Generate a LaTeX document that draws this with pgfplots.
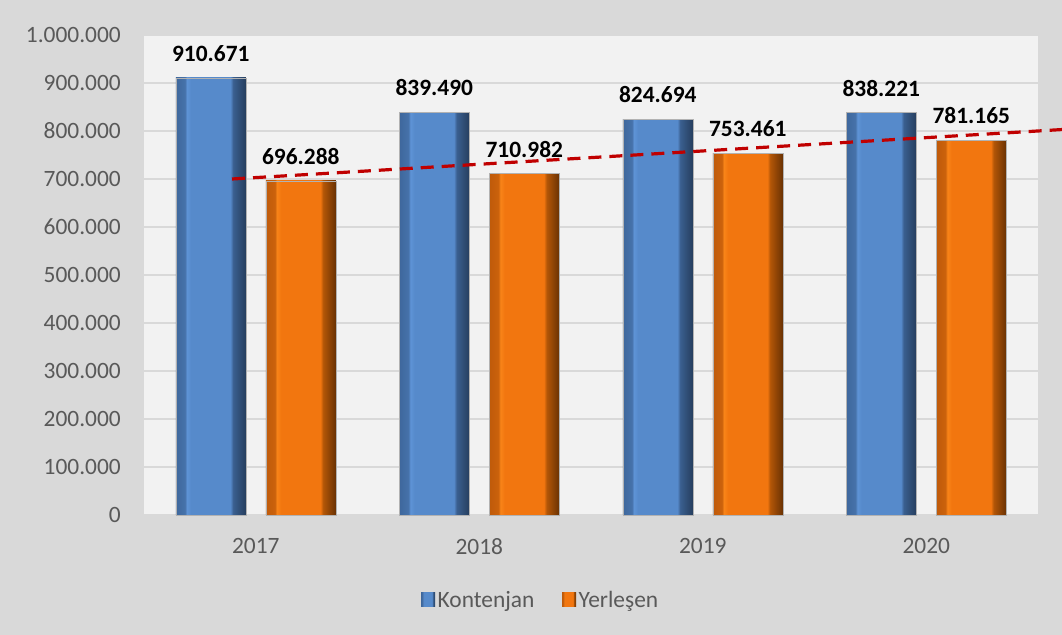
\documentclass[border=0pt]{standalone}
\usepackage{pgfplots}
\pgfplotsset{compat=1.18}
\usepackage{fontspec}
\setmainfont{Carlito}
\definecolor{outerbg}{HTML}{D9D9D9}
\definecolor{plotbg}{HTML}{F2F2F2}
\definecolor{gridc}{HTML}{D9D9D9}
\definecolor{txt}{HTML}{595959}
\definecolor{blueL}{HTML}{3E679C}
\definecolor{blueLL}{HTML}{4672AA}
\definecolor{blueH}{HTML}{5E93D6}
\definecolor{blueM}{HTML}{568ACB}
\definecolor{blueR1}{HTML}{3A5F8F}
\definecolor{blueR}{HTML}{263E5E}
\definecolor{orL}{HTML}{BF5A0A}
\definecolor{orLL}{HTML}{CB620C}
\definecolor{orH}{HTML}{F98418}
\definecolor{orM}{HTML}{F2760F}
\definecolor{orR1}{HTML}{B35607}
\definecolor{orR}{HTML}{6A3203}
\definecolor{trend}{HTML}{C00000}
\pgfdeclarehorizontalshading{bluebar}{100bp}{color(0bp)=(blueL); color(25bp)=(blueL); color(31.5bp)=(blueLL); color(33bp)=(blueH); color(36bp)=(blueM); color(64bp)=(blueM); color(66bp)=(blueR1); color(75bp)=(blueR); color(100bp)=(blueR)}
\pgfdeclarehorizontalshading{orbar}{100bp}{color(0bp)=(orL); color(25bp)=(orL); color(31.5bp)=(orLL); color(33bp)=(orH); color(36bp)=(orM); color(64bp)=(orM); color(66bp)=(orR1); color(75bp)=(orR); color(100bp)=(orR)}
\pgfplotsset{
  kbar/.style={ybar, bar shift=-45bp, shading=bluebar, draw=gray!60, line width=0.5bp,
    nodes near coords, point meta=explicit symbolic,
    every node near coord/.append style={xshift=-45bp}},
  ybar2/.style={ybar, bar shift=45bp, shading=orbar, draw=gray!60, line width=0.5bp,
    nodes near coords, point meta=explicit symbolic,
    every node near coord/.append style={xshift=45bp}},
}
\begin{document}
\begin{tikzpicture}
\fill[outerbg] (0,0) rectangle (1062bp,635bp);
\useasboundingbox (0,0) rectangle (1062bp,635bp);
\begin{axis}[
  at={(144bp,120bp)}, anchor=south west,
  scale only axis, width=894bp, height=480bp,
  axis background/.style={fill=plotbg},
  axis line style={draw=none},
  clip=false,
  xmin=-0.5, xmax=3.5, ymin=0, ymax=1000000,
  xtick={0,1,2,3}, xticklabels={2017,2018,2019,2020},
  ytick={0,100000,200000,300000,400000,500000,600000,700000,800000,900000,1000000},
  scaled y ticks=false,
  major tick length=0pt,
  ymajorgrids, grid style={gridc, line width=1.5bp},
  tick label style={font=\fontsize{23.5}{28}\selectfont, text=txt, inner sep=0pt},
  yticklabel style={anchor=east, xshift=-23bp, /pgf/number format/.cd, fixed, 1000 sep={.}, assume math mode=true},
  xticklabel style={anchor=north, yshift=-23bp},
  bar width=70bp,
  every node near coord/.append style={font=\bfseries\fontsize{23.5}{28}\selectfont, text=black, inner sep=0pt, anchor=south, yshift=16bp},
  legend image code/.code={\path[#1, draw=none] (0bp,-7bp) rectangle (14bp,7bp);},
  legend style={at={(0.444,-0.177)}, anchor=center, draw=none, fill=none, legend columns=2,
    font=\fontsize{23.5}{28}\selectfont, text=txt,
    /tikz/every even column/.append style={column sep=25bp},
    nodes={inner sep=2.5bp}},
]
% first bars of each series (carry the legend)
\addplot[kbar] coordinates {(0,910671) [910.671]};
\addlegendentry{Kontenjan}
\addplot[ybar2] coordinates {(0,696288) [696.288]};
\addlegendentry{Yerleşen}
% Kontenjan
\addplot[kbar, forget plot] coordinates {(1,839490) [839.490]};
\addplot[kbar, forget plot] coordinates {(2,824694) [824.694]};
\addplot[kbar, forget plot] coordinates {(3,838221) [838.221]};
% Yerleşen
\addplot[ybar2, forget plot] coordinates {(1,710982) [710.982]};
\addplot[ybar2, forget plot] coordinates {(2,753461) [753.461]};
\addplot[ybar2, forget plot] coordinates {(3,781165) [781.165]};
% trend line
\addplot[sharp plot, forget plot, trend, line width=3.2bp, dash pattern=on 13bp off 8bp] coordinates {
  (-0.106,700000) (3.607,803000)
};
\end{axis}
\end{tikzpicture}
\end{document}
